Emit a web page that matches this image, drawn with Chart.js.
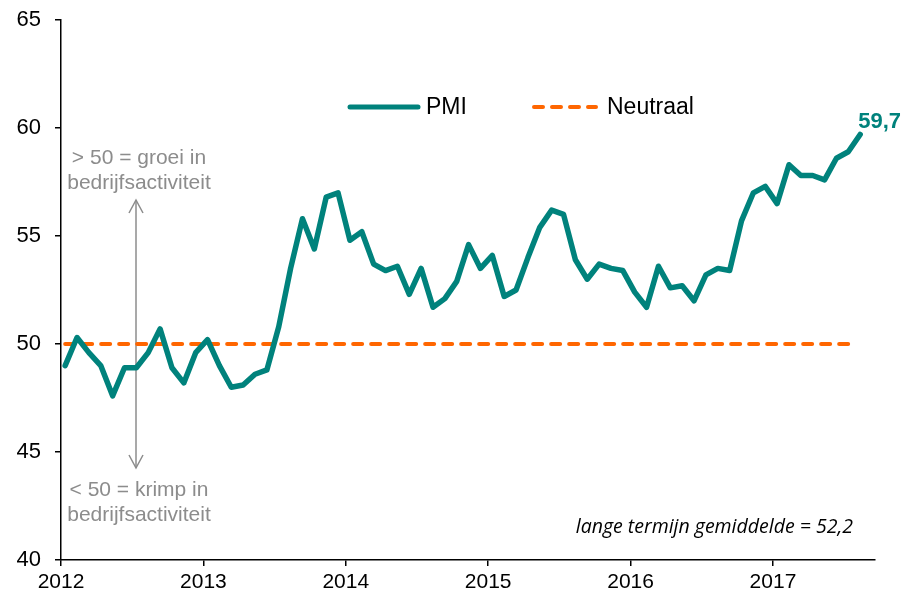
<!DOCTYPE html>
<html>
<head>
<meta charset="utf-8">
<script src="https://cdn.jsdelivr.net/npm/chart.js@4"></script>
<style>
  body { margin: 0; background: #fff; }
</style>
</head>
<body>
<canvas id="pmiChart" width="905" height="599"></canvas>
<script>
// monthly PMI, jan 2012 - aug 2017
const pmi = [
  49.0, 50.3, 49.6, 49.0, 47.6, 48.9, 48.9, 49.6, 50.7, 48.9, 48.2, 49.6,
  50.2, 49.0, 48.0, 48.1, 48.6, 48.8, 50.8, 53.5, 55.8, 54.4, 56.8, 57.0,
  54.8, 55.2, 53.7, 53.4, 53.6, 52.3, 53.5, 51.7, 52.1, 52.9, 54.6, 53.5,
  54.1, 52.2, 52.5, 54.0, 55.4, 56.2, 56.0, 53.9, 53.0, 53.7, 53.5, 53.4,
  52.4, 51.7, 53.6, 52.6, 52.7, 52.0, 53.2, 53.5, 53.4, 55.7, 57.0, 57.3,
  56.5, 58.3, 57.8, 57.8, 57.6, 58.6, 58.9, 59.7
];
const neutralMonths = [0, 66];
const neutral = [50, 50];
const years = [2012, 2013, 2014, 2015, 2016, 2017];
const yTicks = [40, 45, 50, 55, 60, 65];
const lastLabel = '59,7';
const avgNote = 'lange termijn gemiddelde = 52,2';

const TEAL = '#00827C';
const ORANGE = '#FF6600';
const GREY = '#8C8C8C';
const FONT = '"Liberation Sans", Arial, sans-serif';
const shift = 0.35; // points sit a bit right of the month tick

const pmiPoints = pmi.map((v, i) => ({ x: i + shift, y: v }));
const neutralPoints = neutral.map((v, i) => ({ x: neutralMonths[i] + shift, y: v }));

function arrowHead(ctx, x, y, dir) {
  ctx.beginPath();
  ctx.moveTo(x - 7, y + dir * 13);
  ctx.lineTo(x, y);
  ctx.lineTo(x + 7, y + dir * 13);
  ctx.stroke();
}

const decorations = {
  id: 'decorations',
  beforeDatasetsDraw(chart) {
    const ctx = chart.ctx;
    // up/down arrow
    ctx.save();
    ctx.strokeStyle = GREY;
    ctx.lineWidth = 1.5;
    ctx.beginPath();
    ctx.moveTo(136, 200);
    ctx.lineTo(136, 468);
    ctx.stroke();
    arrowHead(ctx, 136, 200, 1);
    arrowHead(ctx, 136, 468, -1);
    ctx.restore();
  },
  afterDraw(chart) {
    const ctx = chart.ctx;
    ctx.save();
    ctx.textBaseline = 'middle';

    // notes next to the arrow
    ctx.fillStyle = GREY;
    ctx.font = '21px ' + FONT;
    ctx.textAlign = 'center';
    ctx.fillText('> 50 = groei in', 139, 158);
    ctx.fillText('bedrijfsactiviteit', 139, 183);
    ctx.fillText('< 50 = krimp in', 139, 490);
    ctx.fillText('bedrijfsactiviteit', 139, 515);

    // legend
    ctx.lineCap = 'round';
    ctx.strokeStyle = TEAL;
    ctx.lineWidth = 5;
    ctx.beginPath();
    ctx.moveTo(350, 107);
    ctx.lineTo(418, 107);
    ctx.stroke();
    ctx.strokeStyle = ORANGE;
    ctx.lineWidth = 4;
    ctx.setLineDash([9, 9]);
    ctx.beginPath();
    ctx.moveTo(534, 107);
    ctx.lineTo(596, 107);
    ctx.stroke();
    ctx.setLineDash([]);
    ctx.fillStyle = '#000';
    ctx.textAlign = 'left';
    ctx.font = '23px ' + FONT;
    ctx.fillText('PMI', 426, 108);
    ctx.fillText('Neutraal', 607, 108);

    // last value
    const meta = chart.getDatasetMeta(0);
    const last = meta.data[meta.data.length - 1];
    ctx.fillStyle = TEAL;
    ctx.font = 'bold 22px ' + FONT;
    ctx.fillText(lastLabel, last.x - 2, last.y - 13);

    // long term average
    ctx.fillStyle = '#000';
    ctx.font = 'italic 19.5px "Open Sans", Lato, sans-serif';
    ctx.textAlign = 'right';
    ctx.fillText(avgNote, 853, 527);
    ctx.restore();
  }
};

const ctx = document.getElementById('pmiChart').getContext('2d');
const myChart = new Chart(ctx, {
  type: 'line',
  data: {
    datasets: [{
      label: 'PMI',
      data: pmiPoints,
      borderColor: TEAL,
      borderWidth: 5.5,
      pointRadius: 0,
      tension: 0,
      borderJoinStyle: 'round',
      borderCapStyle: 'round'
    }, {
      label: 'Neutraal',
      data: neutralPoints,
      borderColor: ORANGE,
      borderWidth: 4,
      borderDash: [9, 9],
      borderCapStyle: 'round',
      pointRadius: 0
    }]
  },
  options: {
    responsive: false,
    animation: false,
    layout: { padding: { top: 20, right: 30, left: 0, bottom: 0 } },
    plugins: {
      legend: { display: false },
      tooltip: { enabled: false }
    },
    scales: {
      x: {
        type: 'linear',
        min: 0,
        max: 68.6,
        afterBuildTicks: scale => {
          scale.ticks = years.map((y, i) => ({ value: i * 12 }));
        },
        afterFit: scale => { scale.height = 39; },
        ticks: {
          color: '#000',
          font: { family: FONT, size: 21 },
          padding: 4,
          maxRotation: 0,
          callback: v => years[v / 12]
        },
        grid: { drawOnChartArea: false, color: '#000', tickLength: 6, lineWidth: 1.5 },
        border: { color: '#000', width: 1.5 }
      },
      y: {
        min: 40,
        max: 65,
        afterBuildTicks: scale => {
          scale.ticks = yTicks.map(v => ({ value: v }));
        },
        afterFit: scale => {
          scale.width = 61;
          scale.paddingTop = 0;
          scale.paddingBottom = 0;
        },
        ticks: {
          color: '#000',
          font: { family: FONT, size: 22 },
          padding: 14
        },
        grid: { drawOnChartArea: false, color: '#000', tickLength: 6, lineWidth: 1.5 },
        border: { color: '#000', width: 1.5 }
      }
    }
  },
  plugins: [decorations]
});
</script>
</body>
</html>
